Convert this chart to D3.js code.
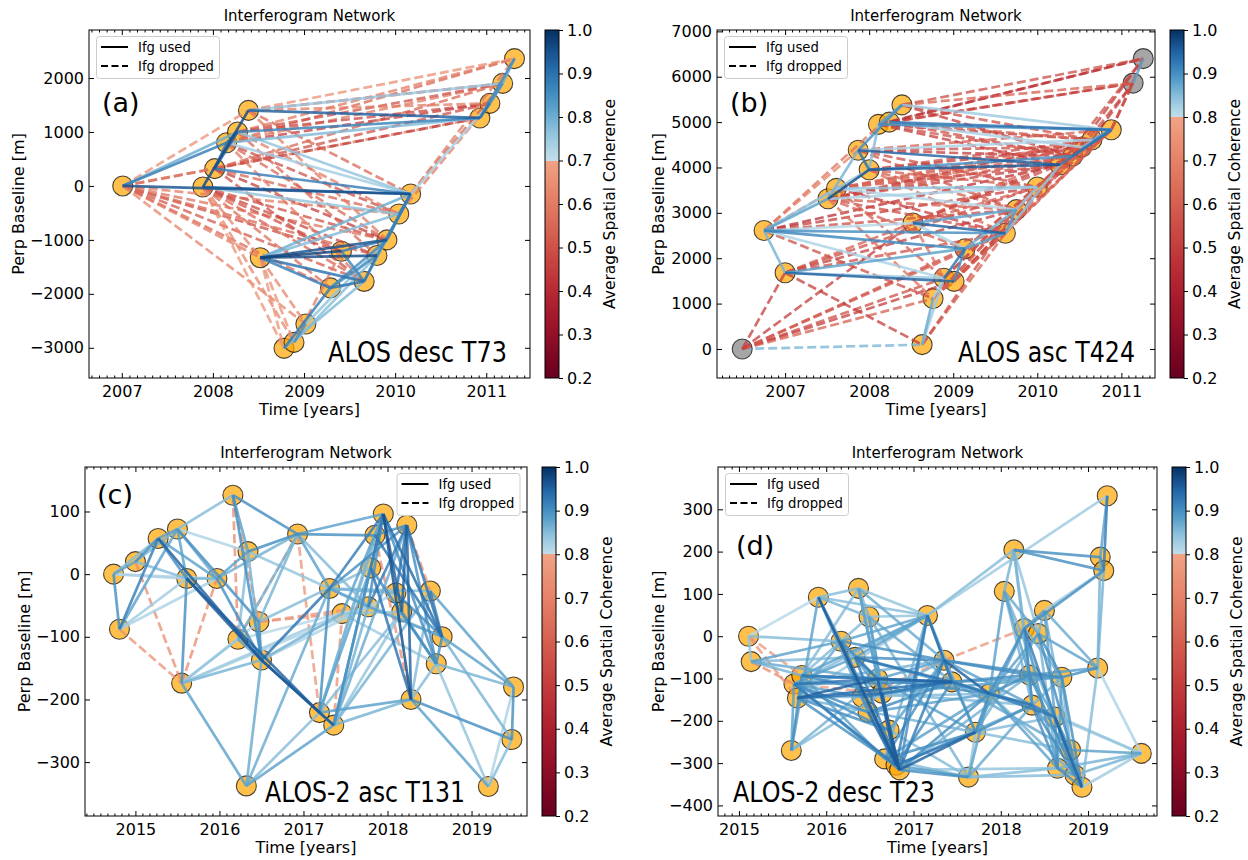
<!DOCTYPE html>
<html>
<head>
<meta charset="utf-8">
<script src="https://cdn.jsdelivr.net/npm/d3@7"></script>
<style>
  body { margin: 0; background: #fff; }
  text { font-family: "DejaVu Sans", sans-serif; }
</style>
</head>
<body>
<svg id="fig" width="1248" height="860"></svg>
<script>
// ---- panel (a) ALOS desc T73 ----
const datesA = [2007.01, 2007.89, 2008.02, 2008.15, 2008.27, 2008.39, 2008.52, 2008.78, 2008.89, 2009.02,
  2009.29, 2009.41, 2009.66, 2009.80, 2009.91, 2010.04, 2010.17, 2010.93, 2011.04, 2011.18, 2011.31];
const bperpA = [0, -20, 320, 800, 1000, 1400, -1330, -3010, -2900, -2560,
  -1890, -1210, -1770, -1290, -1000, -520, -150, 1260, 1530, 1900, 2360];
const usedA = [[0,16,0.95],[1,16,0.93],[0,3,0.88],[0,4,0.80],[1,5,0.96],[2,4,0.92],[2,16,0.88],[5,17,0.93],
  [4,17,0.87],[3,17,0.78],[5,19,0.75],[4,16,0.76],[3,16,0.74],[1,15,0.76],[6,14,0.95],[6,13,0.96],[6,11,0.97],
  [6,12,0.90],[6,10,0.88],[6,16,0.80],[6,15,0.78],[11,14,0.88],[11,12,0.86],[10,13,0.85],[10,12,0.90],
  [12,13,0.90],[10,14,0.85],[13,16,0.87],[14,16,0.88],[15,16,0.85],[12,16,0.80],[7,10,0.88],[8,9,0.85],
  [7,12,0.78],[8,13,0.77],[9,14,0.76],[16,18,0.73],[17,20,0.86],[17,19,0.78],[18,19,0.85],[19,20,0.80],
  [17,18,0.90],[3,4,0.90],[2,3,0.88]];
const droppedA = [[0,5,0.65],[0,2,0.50],[0,6,0.60],[0,10,0.56],[0,11,0.50],[0,12,0.52],[0,13,0.55],[0,14,0.58],
  [0,15,0.60],[0,9,0.62],[0,17,0.60],[1,6,0.62],[1,11,0.50],[1,12,0.55],[1,13,0.48],[1,14,0.50],[1,7,0.66],
  [1,8,0.63],[1,10,0.57],[2,12,0.50],[2,14,0.45],[2,15,0.55],[2,17,0.45],[2,18,0.50],[2,19,0.55],[3,18,0.45],
  [3,19,0.60],[3,20,0.55],[3,14,0.55],[3,15,0.50],[3,12,0.60],[4,18,0.48],[4,20,0.60],[4,19,0.50],[4,13,0.55],
  [4,15,0.60],[5,20,0.65],[5,18,0.60],[5,19,0.50],[5,16,0.55],[5,14,0.60],[6,7,0.66],[6,8,0.65],[6,9,0.62],
  [16,20,0.60],[16,19,0.55],[15,18,0.60],[11,8,0.60]];
const grayA = [];

// ---- panel (b) ALOS asc T424 ----
const datesB = [2006.49, 2006.75, 2007.00, 2007.51, 2007.61, 2007.87, 2008.00, 2008.11, 2008.24, 2008.39,
  2008.52, 2008.63, 2008.76, 2008.89, 2009.01, 2009.14, 2009.62, 2009.75, 2010.00, 2010.27, 2010.42, 2010.53,
  2010.65, 2010.88, 2011.14, 2011.26];
const bperpB = [0, 2610, 1680, 3310, 3540, 4380, 3950, 4950, 5000, 5380, 2775, 95, 1110, 1560, 1490, 2210,
  2550, 3070, 3570, 4060, 4250, 4450, 4610, 4830, 5860, 6400];
const usedB = [[1,2,0.86],[1,3,0.88],[1,16,0.90],[1,15,0.91],[1,10,0.81],[1,13,0.82],[2,14,0.95],[2,15,0.88],
  [2,13,0.83],[3,6,0.97],[4,18,0.84],[5,19,0.95],[5,6,0.93],[5,9,0.90],[6,19,0.96],[6,20,0.90],[7,23,0.90],
  [8,23,0.93],[9,23,0.83],[8,21,0.82],[5,22,0.82],[10,16,0.95],[10,17,0.88],[10,15,0.82],[15,16,0.88],
  [13,15,0.93],[14,15,0.90],[12,13,0.82],[11,12,0.87],[11,13,0.83],[15,17,0.86],[16,17,0.88],[17,18,0.83],
  [19,23,0.92],[20,23,0.93],[21,23,0.85],[22,23,0.88],[16,19,0.84],[24,25,0.88],[3,18,0.82],[4,17,0.81],
  [1,6,0.84],[3,5,0.86],[7,9,0.88],[6,7,0.85]];
const droppedB = [[0,11,0.86],[0,2,0.50],[0,13,0.55],[0,14,0.50],[0,12,0.60],[0,15,0.56],[0,16,0.58],
  [2,11,0.50],[1,12,0.55],[1,5,0.70],[1,4,0.68],[1,9,0.65],[1,17,0.55],[1,18,0.50],[1,19,0.45],[2,10,0.60],
  [2,16,0.55],[2,17,0.50],[3,16,0.55],[3,17,0.60],[3,19,0.50],[3,20,0.55],[3,15,0.60],[3,12,0.65],[4,16,0.50],
  [4,19,0.55],[4,21,0.60],[4,13,0.60],[5,20,0.50],[5,21,0.55],[5,23,0.60],[5,18,0.55],[6,21,0.50],[6,22,0.55],
  [6,18,0.60],[6,17,0.60],[7,19,0.50],[7,20,0.55],[7,22,0.50],[7,24,0.55],[7,25,0.50],[8,20,0.55],[8,22,0.60],
  [8,24,0.50],[8,25,0.45],[9,25,0.55],[9,24,0.60],[9,22,0.55],[9,20,0.50],[10,19,0.55],[10,20,0.50],
  [10,21,0.60],[10,18,0.60],[10,13,0.65],[12,16,0.60],[12,18,0.55],[12,23,0.60],[13,18,0.60],[13,19,0.55],
  [14,20,0.50],[14,22,0.55],[14,23,0.60],[15,21,0.60],[15,22,0.55],[16,23,0.60],[17,23,0.55],[18,23,0.60],
  [19,25,0.55],[20,25,0.50],[21,24,0.55],[22,24,0.50],[23,24,0.50],[23,25,0.55],[11,16,0.60],[11,17,0.55],
  [12,17,0.60],[0,10,0.50],[3,21,0.58],[4,20,0.62],[5,17,0.57],[6,16,0.63],[3,22,0.52],[4,22,0.6],[2,18,0.55]];
const grayB = [0, 24, 25];

// ---- panel (c) ALOS-2 asc T131 ----
const datesC = [2014.74, 2014.81, 2015.00, 2015.27, 2015.50, 2015.55, 2015.61, 2015.97, 2016.16, 2016.22,
  2016.32, 2016.34, 2016.47, 2016.50, 2016.93, 2017.19, 2017.31, 2017.36, 2017.46, 2017.77, 2017.80, 2017.85,
  2017.95, 2018.10, 2018.17, 2018.23, 2018.28, 2018.51, 2018.58, 2018.65, 2019.20, 2019.48, 2019.50];
const bperpC = [0, -88, 20, 57, 72, -174, -7, -7, 126, -104, -338, 36, -76, -137, 64, -221, -23, -241, -63,
  -52, 10, 62, 96, -30, -60, 78, -200, -27, -143, -100, -339, -264, -180];
const usedC = [[0,1,0.90],[0,2,0.88],[0,3,0.85],[0,6,0.82],[0,7,0.81],[1,3,0.92],[1,4,0.88],[1,6,0.83],
  [1,7,0.82],[2,3,0.90],[2,4,0.86],[2,6,0.85],[3,4,0.88],[3,6,0.90],[3,13,0.95],[3,7,0.88],[4,8,0.85],
  [4,7,0.87],[4,11,0.82],[4,12,0.90],[4,6,0.88],[5,6,0.90],[5,13,0.86],[5,10,0.88],[5,12,0.82],[5,9,0.84],
  [6,7,0.86],[6,13,0.96],[6,15,0.95],[7,11,0.88],[7,14,0.86],[7,13,0.90],[8,11,0.88],[8,14,0.90],[8,13,0.90],
  [9,11,0.85],[9,13,0.88],[9,14,0.86],[10,13,0.87],[10,17,0.88],[11,13,0.86],[11,14,0.90],[11,16,0.84],
  [12,13,0.90],[12,14,0.86],[13,17,0.96],[13,15,0.95],[13,16,0.93],[13,18,0.86],[14,21,0.90],[14,22,0.88],
  [14,16,0.88],[14,19,0.85],[15,17,0.90],[15,16,0.90],[15,20,0.88],[15,21,0.86],[15,26,0.88],[15,22,0.85],
  [16,22,0.92],[16,25,0.90],[16,19,0.88],[16,23,0.86],[16,27,0.85],[16,29,0.84],[17,20,0.88],[17,19,0.86],
  [17,22,0.90],[17,26,0.86],[17,25,0.87],[18,24,0.84],[18,28,0.83],[18,22,0.88],[19,22,0.90],[19,25,0.92],
  [19,29,0.88],[20,26,0.93],[20,22,0.92],[20,28,0.90],[21,25,0.90],[21,29,0.93],[22,26,0.97],[22,24,0.95],
  [22,29,0.94],[22,28,0.90],[23,25,0.93],[23,29,0.90],[24,25,0.95],[24,28,0.90],[25,26,0.95],[25,29,0.93],
  [25,28,0.90],[26,31,0.90],[26,30,0.88],[26,28,0.85],[27,29,0.92],[27,32,0.88],[28,29,0.90],[28,32,0.86],
  [29,32,0.88],[29,31,0.86],[28,30,0.84],[30,31,0.85],[30,32,0.82],[31,32,0.90],[13,23,0.82],[12,20,0.85],
  [9,19,0.81],[5,18,0.83],[5,19,0.82],[10,16,0.87],[10,15,0.85],[17,24,0.84],[17,27,0.86],[15,24,0.85],
  [26,27,0.85]];
const droppedC = [[1,5,0.74],[2,5,0.73],[5,7,0.72],[8,9,0.72],[8,12,0.75],[12,18,0.74],[9,14,0.73],
  [17,18,0.74],[14,15,0.75],[21,26,0.73],[25,27,0.75],[12,19,0.76]];
const grayC = [];

// ---- panel (d) ALOS-2 desc T23 ----
const datesD = [2015.11, 2015.14, 2015.60, 2015.63, 2015.72, 2015.67, 2015.91, 2016.17, 2016.33, 2016.37,
  2016.49, 2016.41, 2016.48, 2016.59, 2016.64, 2016.72, 2016.67, 2016.80, 2016.84, 2017.16, 2017.35, 2017.44,
  2017.71, 2017.63, 2017.87, 2018.04, 2018.15, 2018.27, 2018.33, 2018.36, 2018.43, 2018.50, 2018.62, 2018.70,
  2018.65, 2018.80, 2018.85, 2018.93, 2019.11, 2019.14, 2019.18, 2019.22, 2019.61];
const bperpD = [0, -60, -270, -113, -93, -146, 92, -12, -50, 113, 46, -144, -180, -101, -135, -222, -290,
  -305, -316, 49, -57, -108, -227, -333, -136, 106, 204, 18, -92, -163, 6, 61, -191, -97, -312, -269, -328,
  -357, -75, 187, 155, 332, -277];
const usedD = [[0,1,0.84],[0,6,0.81],[0,7,0.85],[1,7,0.88],[1,4,0.86],[1,13,0.87],[1,8,0.85],[2,4,0.90],
  [2,6,0.88],[2,13,0.86],[2,14,0.85],[2,3,0.88],[3,13,0.93],[3,21,0.90],[3,17,0.92],[3,18,0.90],[3,8,0.88],
  [3,20,0.86],[3,12,0.90],[3,15,0.90],[3,11,0.88],[3,19,0.85],[4,13,0.92],[4,14,0.90],[4,19,0.88],[4,10,0.85],
  [4,21,0.92],[4,16,0.88],[4,9,0.85],[5,13,0.95],[5,21,0.94],[5,17,0.90],[5,15,0.90],[5,22,0.86],[5,24,0.85],
  [5,14,0.93],[5,19,0.83],[5,7,0.87],[6,9,0.85],[6,18,0.96],[6,10,0.86],[6,7,0.88],[6,12,0.88],[6,19,0.85],
  [7,13,0.90],[7,18,0.92],[7,19,0.88],[7,20,0.90],[7,11,0.90],[7,8,0.86],[8,13,0.92],[8,21,0.93],[8,18,0.92],
  [8,20,0.90],[8,19,0.88],[8,24,0.88],[8,14,0.88],[9,10,0.86],[9,19,0.84],[9,14,0.85],[9,17,0.88],[9,13,0.86],
  [9,20,0.87],[10,19,0.84],[10,14,0.88],[10,23,0.86],[10,21,0.87],[10,17,0.87],[11,21,0.92],[11,18,0.90],
  [12,17,0.94],[12,21,0.90],[12,24,0.88],[13,21,0.95],[13,17,0.95],[13,24,0.90],[13,20,0.88],[13,22,0.88],
  [14,18,0.96],[14,21,0.90],[14,33,0.88],[14,29,0.85],[14,20,0.86],[15,18,0.94],[15,20,0.88],[15,23,0.85],
  [16,19,0.86],[16,20,0.90],[16,22,0.90],[16,24,0.88],[16,23,0.85],[17,19,0.92],[17,22,0.93],[17,21,0.90],
  [17,23,0.88],[17,29,0.86],[18,19,0.90],[18,20,0.92],[18,22,0.95],[18,24,0.90],[18,23,0.90],[18,34,0.84],
  [18,28,0.86],[19,20,0.93],[19,21,0.90],[19,26,0.85],[19,22,0.86],[19,41,0.83],[20,21,0.92],[20,24,0.95],
  [20,28,0.90],[20,33,0.90],[20,22,0.90],[20,29,0.88],[21,24,0.93],[21,28,0.90],[21,33,0.88],[21,35,0.87],
  [21,29,0.88],[22,24,0.90],[22,27,0.88],[22,30,0.86],[22,29,0.90],[22,32,0.85],[22,35,0.85],[22,23,0.84],
  [23,24,0.88],[23,29,0.87],[23,34,0.85],[23,36,0.85],[24,25,0.88],[24,27,0.90],[24,29,0.93],[24,32,0.92],
  [24,28,0.90],[24,30,0.88],[24,34,0.88],[24,36,0.86],[25,26,0.86],[25,28,0.88],[25,30,0.87],[25,32,0.86],
  [25,29,0.86],[26,39,0.90],[26,40,0.90],[26,27,0.86],[26,29,0.85],[26,30,0.84],[27,31,0.88],[27,32,0.92],
  [27,28,0.90],[27,40,0.90],[27,34,0.88],[27,29,0.86],[27,33,0.86],[28,29,0.90],[28,38,0.88],[28,33,0.90],
  [28,32,0.88],[28,36,0.90],[29,32,0.92],[29,34,0.90],[29,37,0.90],[29,35,0.88],[29,33,0.86],[30,38,0.88],
  [30,31,0.86],[30,33,0.90],[30,37,0.90],[30,34,0.86],[31,38,0.87],[31,40,0.83],[31,32,0.88],[31,35,0.86],
  [32,34,0.90],[32,37,0.95],[32,35,0.90],[32,36,0.90],[32,42,0.82],[33,38,0.90],[33,34,0.88],[33,37,0.90],
  [33,35,0.86],[34,36,0.88],[34,42,0.86],[34,37,0.90],[35,42,0.88],[35,36,0.88],[36,42,0.86],[37,42,0.83],
  [37,38,0.85],[38,39,0.86],[38,40,0.86],[38,42,0.82],[39,40,0.90],[39,41,0.88],[40,41,0.92],[29,42,0.84]];
const droppedD = [[0,4,0.75],[1,3,0.72],[0,5,0.74],[20,27,0.75],[11,20,0.76],[3,14,0.77]];
const grayD = [];

// tick values
const yearTicksA = [2007, 2008, 2009, 2010, 2011];
const yearTicksC = [2015, 2016, 2017, 2018, 2019];
const bperpTicksA = [-3000, -2000, -1000, 0, 1000, 2000];
const bperpTicksB = [0, 1000, 2000, 3000, 4000, 5000, 6000, 7000];
const bperpTicksC = [-300, -200, -100, 0, 100];
const bperpTicksD = [-400, -300, -200, -100, 0, 100, 200, 300];
const cohTicks = [0.2, 0.3, 0.4, 0.5, 0.6, 0.7, 0.8, 0.9, 1.0];

const panels = [
  { id: "a", label: "(a)", track: "ALOS desc T73", dates: datesA, bperp: bperpA, used: usedA, dropped: droppedA, gray: grayA,
    thr: 0.7, xDom: [2006.64, 2011.48], yDom: [-3560, 2890], xTicks: yearTicksA, yTicks: bperpTicksA,
    l: 89, r: 530, t: 30, b: 378, cbx: 545, ylabX: 18.5, legRight: false,
    labX: 102, labY: 112, trackX: 328, trackW: 179, trackY: 362 },
  { id: "b", label: "(b)", track: "ALOS asc T424", dates: datesB, bperp: bperpB, used: usedB, dropped: droppedB, gray: grayB,
    thr: 0.8, xDom: [2006.19, 2011.40], yDom: [-640, 7030], xTicks: yearTicksA, yTicks: bperpTicksB,
    l: 717, r: 1155, t: 30, b: 378, cbx: 1170, ylabX: 658, legRight: false,
    labX: 730, labY: 112, trackX: 958, trackW: 177, trackY: 362 },
  { id: "c", label: "(c)", track: "ALOS-2 asc T131", dates: datesC, bperp: bperpC, used: usedC, dropped: droppedC, gray: grayC,
    thr: 0.8, xDom: [2014.40, 2019.66], yDom: [-386, 171], xTicks: yearTicksC, yTicks: bperpTicksC,
    l: 85, r: 527, t: 467, b: 816, cbx: 542, ylabX: 24, legRight: true,
    labX: 97, labY: 504, trackX: 265, trackW: 200, trackY: 802 },
  { id: "d", label: "(d)", track: "ALOS-2 desc T23", dates: datesD, bperp: bperpD, used: usedD, dropped: droppedD, gray: grayD,
    thr: 0.8, xDom: [2014.76, 2019.79], yDom: [-425, 400], xTicks: yearTicksC, yTicks: bperpTicksD,
    l: 718, r: 1157, t: 467, b: 816, cbx: 1172, ylabX: 658, legRight: false,
    labX: 736, labY: 555, trackX: 733, trackW: 202, trackY: 802 }
];

const svg = d3.select("#fig");
const defs = svg.append("defs");

function drawPanel(p) {
  const x = d3.scaleLinear().domain(p.xDom).range([p.l, p.r]);
  const y = d3.scaleLinear().domain(p.yDom).range([p.b, p.t]);
  // truncated RdBu: red half below the threshold, blue half above it
  const cpos = d3.scaleLinear().domain([0.2, p.thr, p.thr + 1e-6, 1]).range([0, 0.3, 0.62, 1]).clamp(true);
  const color = v => d3.interpolateRdBu(cpos(v));
  const g = svg.append("g");

  const nodes = p.dates.map((d, i) => ({ d: d, bp: p.bperp[i], gray: p.gray.includes(i) }));

  // acquisitions
  g.append("g").selectAll("circle")
    .data(nodes)
    .join("circle")
    .attr("cx", d => x(d.d))
    .attr("cy", d => y(d.bp))
    .attr("r", 10)
    .attr("fill", d => d.gray ? "#808080" : "#ffa500")
    .attr("fill-opacity", 0.7)
    .attr("stroke", "#000")
    .attr("stroke-opacity", 0.7)
    .attr("stroke-width", 1.1);

  // interferograms: dropped first, then used (low coherence underneath)
  const seg = (e, used) => ({ a: nodes[e[0]], b: nodes[e[1]], c: e[2], used: used });
  const edges = p.dropped.map(e => seg(e, false))
    .concat(p.used.map(e => seg(e, true)).sort((m, n) => m.c - n.c));

  g.append("g").selectAll("line")
    .data(edges)
    .join("line")
    .attr("x1", d => x(d.a.d)).attr("y1", d => y(d.a.bp))
    .attr("x2", d => x(d.b.d)).attr("y2", d => y(d.b.bp))
    .attr("stroke", d => color(d.c))
    .attr("stroke-width", 2.7)
    .attr("stroke-opacity", d => d.used ? 0.82 : 0.75)
    .attr("stroke-dasharray", d => d.used ? null : "9,4");

  // axes: ticks pointing in, on all four sides
  const minor = d3.range(Math.ceil(p.xDom[0] * 12), Math.floor(p.xDom[1] * 12) + 1)
    .map(k => k / 12).filter(v => Math.abs(v - Math.round(v)) > 1e-6);

  const style = sel => {
    sel.attr("font-family", "DejaVu Sans, sans-serif").attr("font-size", 16);
    sel.select(".domain").remove();
    sel.selectAll("line").attr("stroke", "#000").attr("stroke-width", 1);
    sel.selectAll("text").attr("fill", "#000");
  };

  g.append("g").attr("transform", `translate(0,${p.b})`)
    .call(d3.axisBottom(x).tickValues(p.xTicks).tickFormat(d3.format("d"))
      .tickSizeInner(-5).tickSizeOuter(0).tickPadding(7.6))
    .call(style);
  g.append("g").attr("transform", `translate(0,${p.b})`)
    .call(d3.axisBottom(x).tickValues(minor).tickFormat("").tickSizeInner(-2.5).tickSizeOuter(0))
    .call(style);
  g.append("g").attr("transform", `translate(0,${p.t})`)
    .call(d3.axisTop(x).tickValues(p.xTicks).tickFormat("").tickSizeInner(-5).tickSizeOuter(0))
    .call(style);
  g.append("g").attr("transform", `translate(0,${p.t})`)
    .call(d3.axisTop(x).tickValues(minor).tickFormat("").tickSizeInner(-2.5).tickSizeOuter(0))
    .call(style);
  g.append("g").attr("transform", `translate(${p.l},0)`)
    .call(d3.axisLeft(y).tickValues(p.yTicks).tickFormat(d3.format("d"))
      .tickSizeInner(-5).tickSizeOuter(0).tickPadding(5))
    .call(style);
  g.append("g").attr("transform", `translate(${p.r},0)`)
    .call(d3.axisRight(y).tickValues(p.yTicks).tickFormat("").tickSizeInner(-5).tickSizeOuter(0))
    .call(style);

  g.append("rect")
    .attr("x", p.l).attr("y", p.t)
    .attr("width", p.r - p.l).attr("height", p.b - p.t)
    .attr("fill", "none").attr("stroke", "#000").attr("stroke-width", 1);

  // titles and axis labels
  g.append("text")
    .attr("x", (p.l + p.r) / 2).attr("y", p.t - 9)
    .attr("text-anchor", "middle").attr("font-size", 15)
    .text("Interferogram Network");
  g.append("text")
    .attr("x", (p.l + p.r) / 2).attr("y", p.b + 37)
    .attr("text-anchor", "middle").attr("font-size", 16)
    .text("Time [years]");
  g.append("text")
    .attr("transform", `translate(${p.ylabX},${(p.t + p.b) / 2}) rotate(-90)`)
    .attr("text-anchor", "middle").attr("dy", "0.35em").attr("font-size", 16)
    .text("Perp Baseline [m]");

  // panel letter and track name
  g.append("text")
    .attr("x", p.labX).attr("y", p.labY)
    .attr("font-family", "Open Sans, sans-serif").attr("font-size", 27)
    .text(p.label);
  g.append("text")
    .attr("x", p.trackX).attr("y", p.trackY)
    .attr("font-family", "Open Sans, sans-serif").attr("font-size", 28.5)
    .attr("textLength", p.trackW).attr("lengthAdjust", "spacingAndGlyphs")
    .text(p.track);

  // legend
  const lw = 123, lh = 42;
  const lx = p.legRight ? p.r - 7 - lw : p.l + 7.5;
  const ly = p.t + 6.5;
  const leg = g.append("g").attr("transform", `translate(${lx},${ly})`);
  leg.append("rect")
    .attr("width", lw).attr("height", lh).attr("rx", 3)
    .attr("fill", "#fff").attr("fill-opacity", 0.8)
    .attr("stroke", "#ccc").attr("stroke-width", 1);
  [["Ifg used", null], ["Ifg dropped", "7,3.5"]].forEach((it, i) => {
    const ry = 10.5 + i * 19;
    leg.append("line")
      .attr("x1", 4.5).attr("x2", 31.5).attr("y1", ry).attr("y2", ry)
      .attr("stroke", "#000").attr("stroke-width", 2)
      .attr("stroke-dasharray", it[1]);
    leg.append("text")
      .attr("x", 41.5).attr("y", ry).attr("dy", "0.35em")
      .attr("font-size", 13.2)
      .text(it[0]);
  });

  // colorbar as a vertical gradient with a hard step at the threshold
  const cw = 14;
  const cy = d3.scaleLinear().domain([0.2, 1]).range([p.b, p.t]);
  const grad = defs.append("linearGradient")
    .attr("id", "cbar-" + p.id)
    .attr("x1", 0).attr("y1", 1).attr("x2", 0).attr("y2", 0);
  const lowVals = d3.range(0, 21).map(k => 0.2 + (p.thr - 0.2) * k / 20);
  const highVals = d3.range(0, 21).map(k => p.thr + (1 - p.thr) * k / 20);
  const stops = lowVals.map(v => [v, d3.interpolateRdBu(cpos(Math.min(v, p.thr)))])
    .concat(highVals.map(v => [v, d3.interpolateRdBu(cpos(Math.max(v, p.thr + 2e-6)))]));
  grad.selectAll("stop")
    .data(stops)
    .join("stop")
    .attr("offset", s => ((s[0] - 0.2) / 0.8 * 100) + "%")
    .attr("stop-color", s => s[1]);

  const cb = g.append("g");
  cb.append("rect")
    .attr("x", p.cbx).attr("y", p.t).attr("width", cw).attr("height", p.b - p.t)
    .attr("fill", `url(#cbar-${p.id})`)
    .attr("stroke", "#000").attr("stroke-width", 1);
  cb.append("g").attr("transform", `translate(${p.cbx + cw},0)`)
    .call(d3.axisRight(cy).tickValues(cohTicks).tickFormat(d3.format(".1f"))
      .tickSizeInner(4).tickSizeOuter(0).tickPadding(4))
    .call(style);
  cb.append("text")
    .attr("transform", `translate(${p.cbx + cw + 51},${(p.t + p.b) / 2}) rotate(-90)`)
    .attr("text-anchor", "middle").attr("dy", "0.35em").attr("font-size", 15.5)
    .text("Average Spatial Coherence");
}

panels.forEach(drawPanel);
</script>
</body>
</html>
